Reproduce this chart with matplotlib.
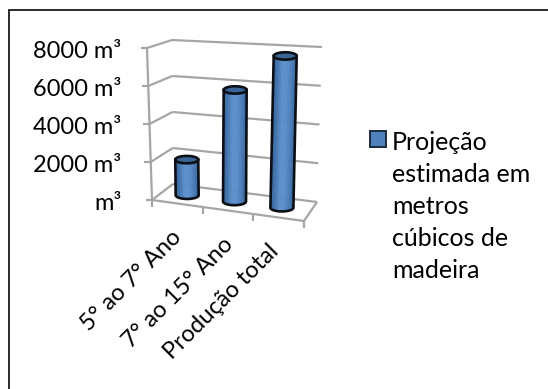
import numpy as np
import matplotlib
matplotlib.use("Agg")
import matplotlib.pyplot as plt
from matplotlib.collections import PolyCollection
from matplotlib.colors import LinearSegmentedColormap
from matplotlib.legend_handler import HandlerPatch
from matplotlib.patches import Patch, Rectangle
from matplotlib.transforms import Affine2D

categories = ["5° ao 7° Ano", "7° ao 15° Ano", "Produção total"]
values = [1900, 5800, 7700]
value_ticks = [0, 2000, 4000, 6000, 8000]
value_labels = ["m³", "2000 m³", "4000 m³", "6000 m³", "8000 m³"]
series_name = "Projeção\nestimada em\nmetros\ncúbicos de\nmadeira"

W, H = 548, 389
FS = 17
LEG_FS = 18
plt.rcParams["font.family"] = ["Lato", "DejaVu Sans"]
fig = plt.figure(figsize=(W / 100, H / 100), dpi=100)

# plot box front plane in image pixels
AX_L, AX_R, AX_B, AX_T = 152.0, 304.0, 200.0, 48.0
ax = fig.add_axes([AX_L / W, 1 - AX_B / H, (AX_R - AX_L) / W, (AX_B - AX_T) / H])
ax.set_xlim(0, len(categories))
ax.set_ylim(0, max(value_ticks))
ax.patch.set_visible(False)
for s in ax.spines.values():
    s.set_visible(False)

# pseudo-3D box corners, image pixels: (u, v, d)
C = {
    (0, 0, 0): (152, 200), (0, 1, 0): (147, 48),
    (0, 0, 1): (173, 184), (0, 1, 1): (172, 40),
    (1, 0, 1): (317, 202), (1, 1, 1): (322, 47),
    (1, 0, 0): (304, 221), (1, 1, 0): (309, 56),
}
C = {k: np.array(p, float) for k, p in C.items()}


def px(u, v, d):
    """category position, value, depth (0-1) -> image pixel"""
    a = u / len(categories)
    b = v / max(value_ticks)
    out = 0.0
    for i, wi in ((0, 1 - a), (1, a)):
        for j, wj in ((0, 1 - b), (1, b)):
            for k, wk in ((0, 1 - d), (1, d)):
                out = out + wi * wj * wk * C[(i, j, k)]
    return out


def to_data(x, y):
    x = np.asarray(x, float)
    y = np.asarray(y, float)
    return ((x - AX_L) / (AX_R - AX_L) * len(categories),
            (AX_B - y) / (AX_B - AX_T) * max(value_ticks))


GRAY = "#a6a6a6"


def seg(p, q, lw=1.6, color=GRAY, z=1):
    x, y = to_data([p[0], q[0]], [p[1], q[1]])
    ax.plot(x, y, color=color, lw=lw, clip_on=False, zorder=z, solid_capstyle="butt")


n = len(categories)
for v in value_ticks:
    seg(px(0, v, 0), px(0, v, 1))
    seg(px(0, v, 1), px(n, v, 1))
    p = px(0, v, 0)
    seg(p, p + np.array([-6.5, 0]))
seg(px(0, 0, 0), px(0, max(value_ticks), 0))
seg(px(0, 0, 0), px(n, 0, 0))
seg(px(n, 0, 0), px(n, 0, 1))
for u in range(n + 1):
    p = px(u, 0, 0)
    seg(p, p + np.array([0, 7]))

cmap = LinearSegmentedColormap.from_list(
    "cyl", ["#2f5f97", "#4373ad", "#5b8fcb", "#5a8ecb", "#4a7cb8", "#35649c"])
BAR_W = 11.5
ELL = 3.7
for i, val in enumerate(values):
    u = i * 0.96 + 0.5
    b = px(u, 0, 0.5)
    t = px(u, val, 0.5)
    ts = np.linspace(-1, 1, 41)
    polys, cols = [], []
    for t0, t1 in zip(ts[:-1], ts[1:]):
        xs = [b[0] + BAR_W * t0, b[0] + BAR_W * t1, t[0] + BAR_W * t1, t[0] + BAR_W * t0]
        ys = [b[1] + ELL * np.sqrt(1 - t0**2), b[1] + ELL * np.sqrt(1 - t1**2),
              t[1] + ELL * np.sqrt(1 - t1**2), t[1] + ELL * np.sqrt(1 - t0**2)]
        dx, dy = to_data(xs, ys)
        polys.append(np.column_stack([dx, dy]))
        cols.append(cmap((t0 + t1 + 2) / 4))
    ax.add_collection(PolyCollection(polys, facecolors=cols, edgecolors=cols,
                                     linewidths=0.3, zorder=3, clip_on=False))
    # outline
    th = np.linspace(np.pi, 0, 40)
    ox = np.r_[t[0] - BAR_W, b[0] + BAR_W * np.cos(th), t[0] + BAR_W]
    oy = np.r_[t[1], b[1] + ELL * np.sin(th), t[1]]
    dx, dy = to_data(ox, oy)
    ax.plot(dx, dy, color="#0b0f16", lw=1.9, zorder=4, clip_on=False)
    # top cap
    th = np.linspace(0, 2 * np.pi, 60)
    ex, ey = to_data(t[0] + BAR_W * np.cos(th), t[1] + ELL * np.sin(th))
    ax.fill(ex, ey, facecolor="#3a6596", edgecolor="#0b0f16", lw=1.9, zorder=5, clip_on=False)

# ticks and labels
ax.set_yticks(value_ticks)
ax.set_yticklabels(value_labels, fontsize=FS, color="black")
ax.tick_params(axis="y", length=0, pad=22)
ax.set_xticks(np.arange(n) + 0.5)
ax.set_xticklabels(categories, fontsize=FS, color="black", rotation=45,
                   ha="right", va="top", rotation_mode="anchor")
ax.tick_params(axis="x", length=0, pad=22)
xlabel_shift = [(-7, 4), (-6, -3), (-11, -10)]
for lab, (sx, sy) in zip(ax.get_xticklabels(), xlabel_shift):
    lab.set_transform(lab.get_transform() + Affine2D().translate(sx, sy))
for lab in ax.get_yticklabels():
    lab.set_transform(lab.get_transform() + Affine2D().translate(0, -1))

# frame
fig.add_artist(Rectangle((8.5 / W, -0.1), (W + 20) / W, 1.1 - 10.5 / H,
                         transform=fig.transFigure, fill=False,
                         edgecolor="#1a1a1a", lw=1.3))


LEG_STEP = 32 * 0.72


def swatch(legend, orig_handle, xdescent, ydescent, width, height, fontsize):
    return Rectangle((-xdescent, -ydescent + 2 * LEG_STEP + 3), width, height)


handle = Patch(facecolor="#4f81bd", edgecolor="#1c2a3a", lw=1.4, label=series_name)
fig.legend(handles=[handle], loc="upper left",
           bbox_to_anchor=(370 / W, 1 - 131 / H), frameon=False,
           fontsize=LEG_FS, labelspacing=0, borderpad=0, borderaxespad=0,
           handlelength=0.64, handleheight=0.62, handletextpad=0.24,
           handler_map={Patch: HandlerPatch(patch_func=swatch)})
for t in fig.legends[0].get_texts():
    t.set_linespacing(1.47)

fig.savefig("out.png", dpi=100)
